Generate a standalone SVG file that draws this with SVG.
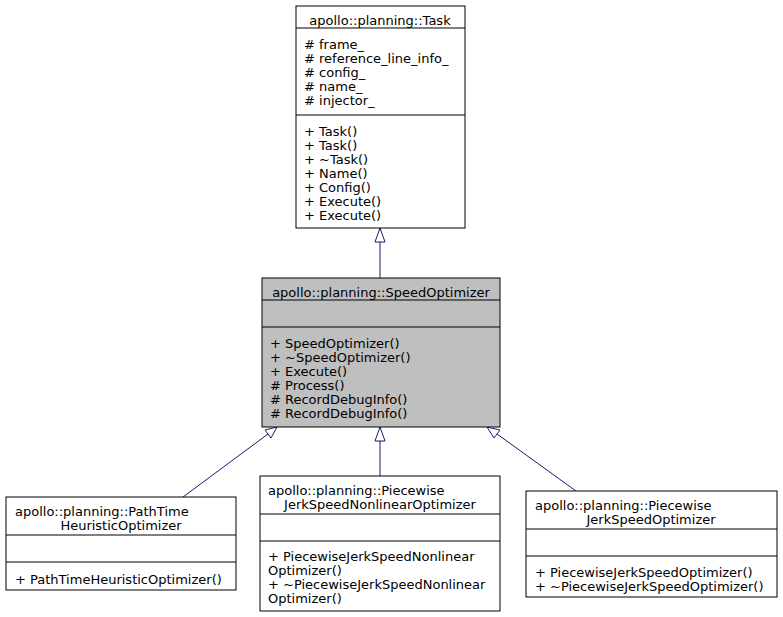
<svg xmlns="http://www.w3.org/2000/svg" width="783" height="617" viewBox="0 0 783 617">
<style>
text{font-family:"DejaVu Sans",sans-serif;font-size:13px;fill:#000}
.b{fill:#fff;stroke:#000;stroke-width:1}
.g{fill:#bfbfbf;stroke:#000;stroke-width:1}
.l{stroke:#000;stroke-width:1}
.e{stroke:#191970;stroke-width:1;fill:none}
.a{fill:#fff;stroke:#191970;stroke-width:1}
</style>
<rect width="783" height="617" fill="#fff"/>
<g id="connectors">
<line class="e" x1="380" y1="278" x2="380" y2="242"/><polygon class="a" points="375,242 385,242 380,228"/>
<line class="e" x1="183" y1="497" x2="268" y2="434"/><polygon class="a" points="265,430 271,438 277,427"/>
<line class="e" x1="380" y1="476" x2="380" y2="441"/><polygon class="a" points="375,441 385,441 380,427"/>
<line class="e" x1="576" y1="491" x2="497" y2="434"/><polygon class="a" points="494,438 500,430 487,427"/>
</g>
<g id="task">
<rect class="b" x="296" y="6" width="169" height="222"/>
<line class="l" x1="296" y1="28" x2="465" y2="28"/><line class="l" x1="296" y1="115" x2="465" y2="115"/>
<g transform="translate(0,3)">
<text x="380" y="22" text-anchor="middle">apollo::planning::Task</text>
<text x="304" y="46">#  frame_</text><text x="304" y="60">#  reference_line_info_</text><text x="304" y="74">#  config_</text><text x="304" y="88">#  name_</text><text x="304" y="102">#  injector_</text>
<text x="304" y="133">+  Task()</text><text x="304" y="147">+  Task()</text><text x="304" y="161">+  ~Task()</text><text x="304" y="175">+  Name()</text><text x="304" y="189">+  Config()</text><text x="304" y="203">+  Execute()</text><text x="304" y="217">+  Execute()</text>
</g>
</g>
<g id="speedoptimizer">
<rect class="g" x="262" y="278" width="238" height="149"/>
<line class="l" x1="262" y1="300" x2="500" y2="300"/><line class="l" x1="262" y1="327" x2="500" y2="327"/>
<g transform="translate(0,3)">
<text x="381" y="294" text-anchor="middle">apollo::planning::SpeedOptimizer</text>
<text x="270" y="345">+  SpeedOptimizer()</text><text x="270" y="359">+  ~SpeedOptimizer()</text><text x="270" y="373">+  Execute()</text><text x="270" y="387">#  Process()</text><text x="270" y="401">#  RecordDebugInfo()</text><text x="270" y="415">#  RecordDebugInfo()</text>
</g>
</g>
<g id="pathtime">
<rect class="b" x="6" y="497" width="230" height="93"/>
<line class="l" x1="6" y1="535" x2="236" y2="535"/><line class="l" x1="6" y1="562" x2="236" y2="562"/>
<g transform="translate(0,3)">
<text x="15" y="513">apollo::planning::PathTime</text><text x="121" y="527" text-anchor="middle">HeuristicOptimizer</text>
<text x="15" y="581">+  PathTimeHeuristicOptimizer()</text>
</g>
</g>
<g id="nonlinear">
<rect class="b" x="260" y="476" width="240" height="135"/>
<line class="l" x1="260" y1="514" x2="500" y2="514"/><line class="l" x1="260" y1="541" x2="500" y2="541"/>
<g transform="translate(0,3)">
<text x="268" y="492">apollo::planning::Piecewise</text><text x="380" y="506" text-anchor="middle">JerkSpeedNonlinearOptimizer</text>
<text x="268" y="558">+  PiecewiseJerkSpeedNonlinear</text><text x="268" y="572">Optimizer()</text><text x="268" y="586">+  ~PiecewiseJerkSpeedNonlinear</text><text x="268" y="600">Optimizer()</text>
</g>
</g>
<g id="piecewise">
<rect class="b" x="526" y="491" width="251" height="106"/>
<line class="l" x1="526" y1="529" x2="777" y2="529"/><line class="l" x1="526" y1="556" x2="777" y2="556"/>
<g transform="translate(0,3)">
<text x="535" y="507">apollo::planning::Piecewise</text><text x="651" y="521" text-anchor="middle">JerkSpeedOptimizer</text>
<text x="535" y="574">+  PiecewiseJerkSpeedOptimizer()</text><text x="535" y="588">+  ~PiecewiseJerkSpeedOptimizer()</text>
</g>
</g>
</svg>
